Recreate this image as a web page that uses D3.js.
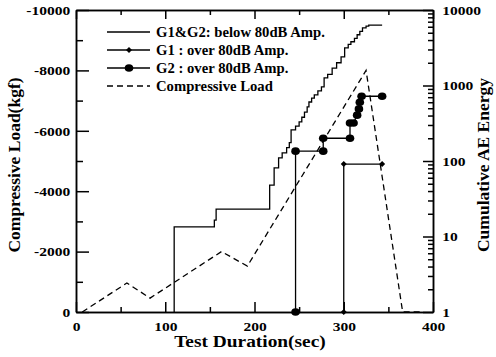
<!DOCTYPE html>
<meta charset="utf-8">
<style>
    body { margin: 0; background: white; }
    text { font-family: "Liberation Serif", "Times New Roman", serif; font-weight: bold; fill: black; }
    .axis path, .axis line { stroke: black; stroke-width: 1.5px; }
</style>
<body>
<div id="chart"></div>
<script src="https://d3js.org/d3.v7.min.js"></script>
<script>
// compressive load (kgf), left axis
var loadTime = [7, 57, 83, 163, 192, 325, 366, 388];
var loadValue = [0, -960, -460, -2000, -1520, -8000, 0, 0];

// G1&G2 below 80dB, cumulative AE energy (right axis)
var belowTime = [110, 110, 155, 157, 217, 222, 227, 231, 236, 239, 241, 246, 250, 253, 256, 259, 261, 264, 267, 271, 275, 278, 282, 287, 292, 297, 301, 305, 308, 312, 315, 318, 321, 325, 328, 343];
var belowValue = [1, 13.4, 16.5, 23, 48, 81, 110, 128, 150, 175, 258, 290, 330, 380, 445, 520, 605, 680, 750, 850, 960, 1260, 1400, 1700, 2000, 2400, 3150, 3500, 3800, 4200, 4700, 5200, 5800, 6100, 6300, 6300];

// G1 over 80dB
var g1Time = [300, 300, 343];
var g1Value = [1, 91, 91];

// G2 over 80dB
var g2Time = [246, 246, 277, 277, 307, 307, 311, 315, 317, 318, 320, 343];
var g2Value = [1, 135, 135, 200, 200, 318, 318, 405, 490, 600, 720, 720];

var xMajor = [0, 100, 200, 300, 400];
var xMinor = [50, 150, 250, 350];
var loadMajor = [0, -2000, -4000, -6000, -8000, -10000];
var loadMinor = [-1000, -3000, -5000, -7000, -9000];
var aeMajor = [1, 10, 100, 1000, 10000];

var legendLabels = ["G1&G2: below 80dB Amp.", "G1 : over 80dB Amp.", "G2 : over 80dB Amp.", "Compressive Load"];

var width = 496,
    height = 357;

var svg = d3.select("#chart").append("svg")
    .attr("width", width)
    .attr("height", height);

var x = d3.scaleLinear().domain([0, 400]).range([76, 433]);
var yLoad = d3.scaleLinear().domain([0, -10000]).range([312, 10]);
var yAE = d3.scaleLog().domain([1, 10000]).range([312, 10]);

var serif = '"Liberation Serif", "Times New Roman", serif';
var stretch = "scale(1.15,1)";

// minor ticks first, then labelled axes
svg.append("g").attr("class", "axis")
    .attr("transform", "translate(0,312)")
    .call(d3.axisBottom(x).tickValues(xMinor).tickSizeInner(-5).tickSizeOuter(0).tickFormat(""));
svg.append("g").attr("class", "axis")
    .attr("transform", "translate(0,10)")
    .call(d3.axisTop(x).tickValues(xMinor).tickSizeInner(-5).tickSizeOuter(0).tickFormat(""));
svg.append("g").attr("class", "axis")
    .attr("transform", "translate(0,10)")
    .call(d3.axisTop(x).tickValues(xMajor).tickSizeInner(-9).tickSizeOuter(0).tickFormat(""));
svg.append("g").attr("class", "axis")
    .attr("transform", "translate(76,0)")
    .call(d3.axisLeft(yLoad).tickValues(loadMinor).tickSizeInner(-7).tickSizeOuter(0).tickFormat(""));

var minorAE = [];
aeMajor.forEach(function(d) {
    if (d < 10000) for (var k = 2; k < 10; k++) minorAE.push(d * k);
});
svg.append("g").attr("class", "axis")
    .attr("transform", "translate(433,0)")
    .call(d3.axisRight(yAE).tickValues(minorAE).tickSizeInner(-5).tickSizeOuter(0).tickFormat(""));

svg.append("g").attr("class", "axis")
    .attr("transform", "translate(0,312)")
    .call(d3.axisBottom(x).tickValues(xMajor).tickSizeInner(-10).tickSizeOuter(0).tickPadding(9).tickFormat(d3.format("d")));

svg.append("g").attr("class", "axis")
    .attr("transform", "translate(76,0)")
    .call(d3.axisLeft(yLoad).tickValues(loadMajor).tickSizeInner(-13).tickSizeOuter(0).tickPadding(5).tickFormat(function(d) { return d == 0 ? "0" : "-" + Math.abs(d); }));

svg.append("g").attr("class", "axis")
    .attr("transform", "translate(433,0)")
    .call(d3.axisRight(yAE).tickValues(aeMajor).tickSizeInner(-10).tickSizeOuter(0).tickPadding(8).tickFormat(d3.format("d")));

svg.selectAll(".axis")
    .attr("font-family", serif)
    .attr("font-size", 13.5);

svg.selectAll(".axis text")
    .style("font-family", serif)
    .style("font-weight", "bold")
    .attr("transform", stretch);

// titles
svg.append("text")
    .attr("x", 250 / 1.14).attr("y", 347)
    .attr("transform", "scale(1.14,1)")
    .attr("text-anchor", "middle")
    .style("font-size", "17px")
    .text("Test Duration(sec)");

svg.append("text")
    .attr("transform", "translate(20,165) rotate(-90)")
    .attr("text-anchor", "middle")
    .style("font-size", "17.5px")
    .text("Compressive Load(kgf)");

svg.append("text")
    .attr("transform", "translate(489,165) rotate(-90)")
    .attr("text-anchor", "middle")
    .style("font-size", "17.5px")
    .text("Cumulative AE Energy");

// data
var loadLine = d3.line()
    .x(function(d, i) { return x(loadTime[i]); })
    .y(function(d) { return yLoad(d); });

svg.append("path")
    .attr("d", loadLine(loadValue))
    .attr("fill", "none")
    .attr("stroke", "black")
    .attr("stroke-width", 1.3)
    .attr("stroke-dasharray", "6,4");

var belowLine = d3.line()
    .curve(d3.curveStepAfter)
    .x(function(d, i) { return x(belowTime[i]); })
    .y(function(d) { return yAE(d); });

svg.append("path")
    .attr("d", belowLine(belowValue))
    .attr("fill", "none")
    .attr("stroke", "black")
    .attr("stroke-width", 1.3);

var g1Line = d3.line()
    .x(function(d, i) { return x(g1Time[i]); })
    .y(function(d) { return yAE(d); });

svg.append("path")
    .attr("d", g1Line(g1Value))
    .attr("fill", "none")
    .attr("stroke", "black")
    .attr("stroke-width", 1.3);

var diamond = d3.symbol().type(d3.symbolSquare).size(18);

svg.selectAll(".g1")
    .data(g1Value)
    .enter().append("path")
    .attr("class", "g1")
    .attr("d", diamond)
    .attr("transform", function(d, i) { return "translate(" + x(g1Time[i]) + "," + yAE(d) + ") rotate(45)"; })
    .attr("fill", "black");

var g2Line = d3.line()
    .x(function(d, i) { return x(g2Time[i]); })
    .y(function(d) { return yAE(d); });

svg.append("path")
    .attr("d", g2Line(g2Value))
    .attr("fill", "none")
    .attr("stroke", "black")
    .attr("stroke-width", 1.3);

svg.selectAll(".g2")
    .data(g2Value)
    .enter().append("ellipse")
    .attr("class", "g2")
    .attr("cx", function(d, i) { return x(g2Time[i]); })
    .attr("cy", function(d) { return yAE(d); })
    .attr("rx", 4.3)
    .attr("ry", 3.8)
    .attr("fill", "black");

// legend
var legend = svg.selectAll(".legend")
    .data(legendLabels)
    .enter().append("g")
    .attr("class", "legend")
    .attr("transform", function(d, i) { return "translate(0," + (32 + i * 18) + ")"; });

legend.append("line")
    .attr("x1", 107).attr("x2", 150)
    .attr("stroke", "black")
    .attr("stroke-width", 1.3)
    .attr("stroke-dasharray", function(d, i) { return i == 3 ? "6,4" : null; });

legend.filter(function(d, i) { return i == 1; }).append("path")
    .attr("d", diamond)
    .attr("transform", "translate(129,0) rotate(45)");

legend.filter(function(d, i) { return i == 2; }).append("ellipse")
    .attr("cx", 129).attr("rx", 4.3).attr("ry", 3.8);

legend.append("text")
    .attr("x", 156 / 1.05)
    .attr("dy", "0.35em")
    .attr("transform", "scale(1.05,1)")
    .style("font-size", "14px")
    .text(function(d) { return d; });
</script>
</body>
</html>
